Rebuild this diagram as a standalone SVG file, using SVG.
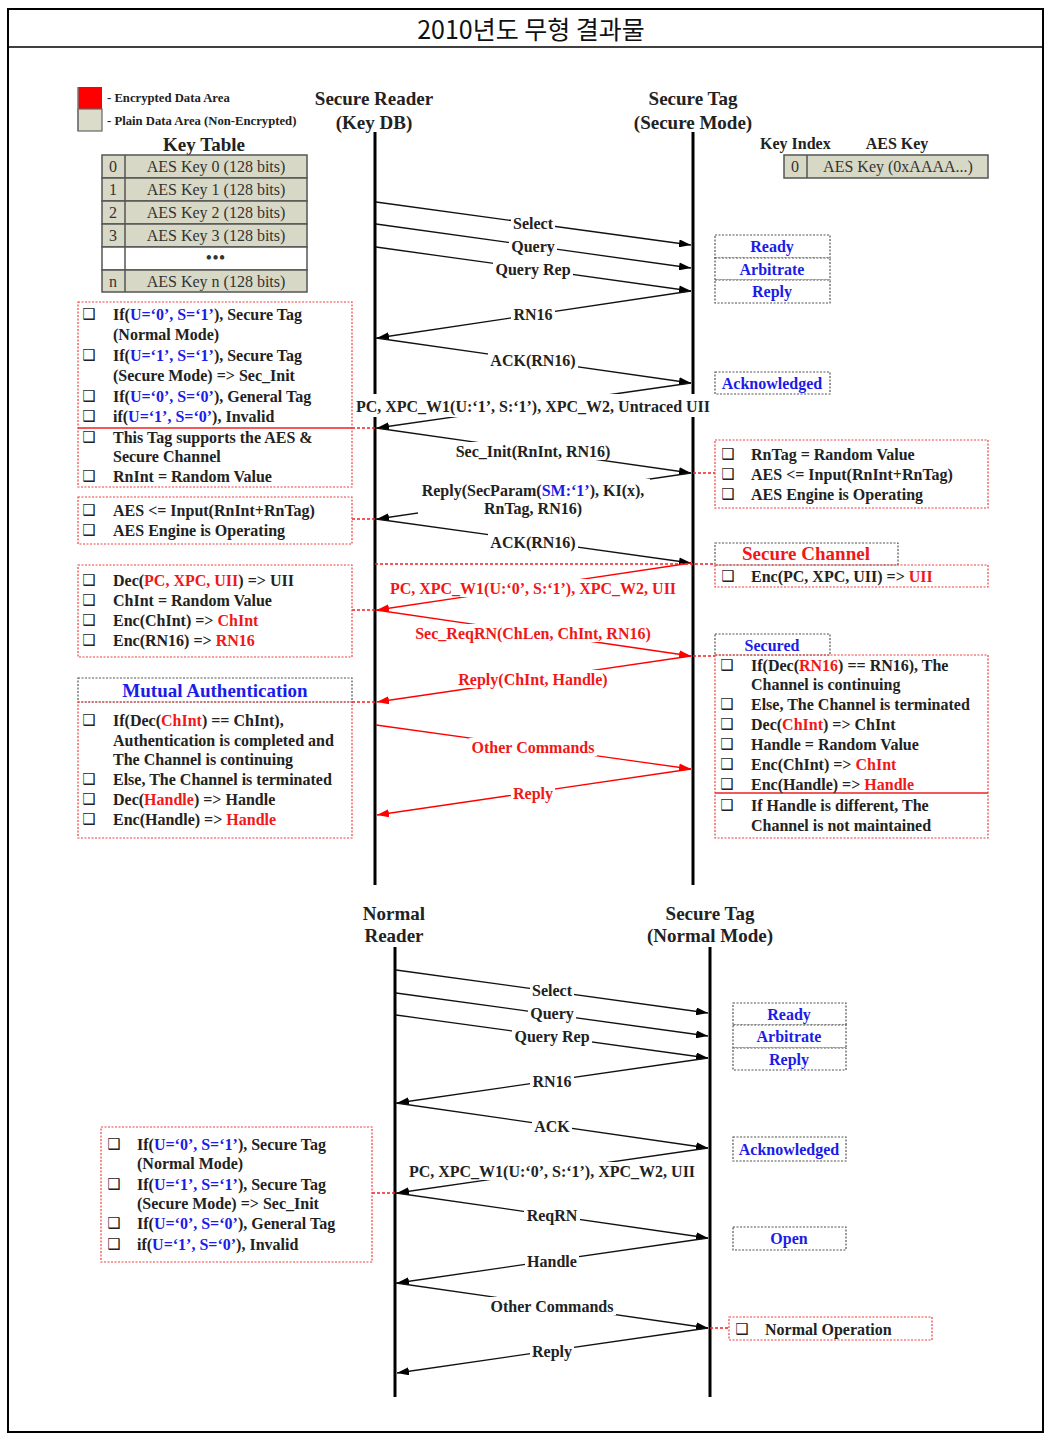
<svg xmlns="http://www.w3.org/2000/svg" width="1051" height="1439" viewBox="0 0 1051 1439">
<style>
.t{font-family:"Liberation Serif","Times New Roman",serif;font-weight:bold;font-size:16px;fill:#222;dominant-baseline:central}
.c{text-anchor:middle}
.lbl{text-anchor:middle}
.hd{font-size:19px;text-anchor:middle}
.lg{font-size:12.7px}
.red{fill:#f01818}
.blu{fill:#1c1ce8}
.cb{font-family:"DejaVu Sans",sans-serif;font-weight:bold;font-size:15px;fill:#222;text-anchor:middle;dominant-baseline:central}
.rbox{fill:none;stroke:#f04040;stroke-width:1.2;stroke-dasharray:2 1.5}
.gbox{fill:#fff;stroke:#555;stroke-width:1.2;stroke-dasharray:2 1.5}
.rcon{stroke:#f02020;stroke-width:1.5;stroke-dasharray:3 2;fill:none}
.msg{stroke:#111;stroke-width:1.3;fill:none;marker-end:url(#ab)}
.rmsg{stroke:#f00;stroke-width:1.3;fill:none;marker-end:url(#ar)}
.life{stroke:#000;stroke-width:3}
.kt{fill:#d8d8c6;stroke:#555;stroke-width:1.5}
.kx{font-family:"Liberation Serif","Times New Roman",serif;font-size:16px;fill:#333;text-anchor:middle;dominant-baseline:central}
.wb{fill:#fff}
</style>
<defs>
<marker id="ab" viewBox="0 0 12 8" refX="12" refY="4" markerWidth="12" markerHeight="8" orient="auto" markerUnits="userSpaceOnUse"><path d="M0,0 L12,4 L0,8 z" fill="#000"/></marker>
<marker id="ar" viewBox="0 0 12 8" refX="12" refY="4" markerWidth="12" markerHeight="8" orient="auto" markerUnits="userSpaceOnUse"><path d="M0,0 L12,4 L0,8 z" fill="#f00"/></marker>
</defs>
<rect width="1051" height="1439" fill="#fff"/>
<!-- frame -->
<rect x="8" y="9" width="1035" height="1423" fill="none" stroke="#000" stroke-width="2"/>
<line x1="8" y1="47" x2="1043" y2="47" stroke="#000" stroke-width="1.5"/>
<text x="531" y="28" font-family="'Noto Sans CJK KR',sans-serif" font-size="25" fill="#111" text-anchor="middle" dominant-baseline="central">2010년도 무형 결과물</text>

<!-- legend -->
<g id="legend">
<rect x="78" y="87" width="24" height="22" fill="#f00"/>
<rect x="78" y="109" width="24" height="22" fill="#dcdccb" stroke="#666" stroke-width="1.2"/>
<line x1="78" y1="87" x2="78" y2="131" stroke="#777" stroke-width="1.5"/>
<text class="t lg" x="107" y="98">- Encrypted Data Area</text>
<text class="t lg" x="107" y="121">- Plain Data Area (Non-Encrypted)</text>
</g>

<!-- key table -->
<g id="key-table">
<text class="t hd" x="204" y="144">Key Table</text>
<rect class="kt" x="102" y="155" width="205" height="23"/>
<rect class="kt" x="102" y="178" width="205" height="23"/>
<rect class="kt" x="102" y="201" width="205" height="23"/>
<rect class="kt" x="102" y="224" width="205" height="23"/>
<rect x="102" y="247" width="205" height="23" fill="#fff" stroke="#555" stroke-width="1.5"/>
<rect class="kt" x="102" y="270" width="205" height="22"/>
<line x1="125" y1="155" x2="125" y2="292" stroke="#555" stroke-width="1.5"/>
<text class="kx" x="113" y="166.5">0</text><text class="kx" x="216" y="166.5">AES Key 0 (128 bits)</text>
<text class="kx" x="113" y="189.5">1</text><text class="kx" x="216" y="189.5">AES Key 1 (128 bits)</text>
<text class="kx" x="113" y="212.5">2</text><text class="kx" x="216" y="212.5">AES Key 2 (128 bits)</text>
<text class="kx" x="113" y="235.5">3</text><text class="kx" x="216" y="235.5">AES Key 3 (128 bits)</text>
<text class="kx" x="216" y="257" font-weight="bold" letter-spacing="1">•••</text>
<text class="kx" x="113" y="281">n</text><text class="kx" x="216" y="281">AES Key n (128 bits)</text>
</g>

<!-- tag key -->
<g id="tag-key">
<text class="t" x="760" y="143">Key Index</text>
<text class="t c" x="897" y="143">AES Key</text>
<rect class="kt" x="784" y="155" width="204" height="23"/>
<line x1="807" y1="155" x2="807" y2="178" stroke="#555" stroke-width="1.5"/>
<text class="kx" x="795" y="166.5">0</text>
<text class="kx" x="898" y="166.5">AES Key (0xAAAA...)</text>
</g>

<!-- actors / lifelines -->
<g id="secure-reader">
<text class="t hd" x="374" y="98">Secure Reader</text>
<text class="t hd" x="374" y="122">(Key DB)</text>
<line class="life" x1="375" y1="132" x2="375" y2="885"/>
</g>
<g id="secure-tag-secure">
<text class="t hd" x="693" y="98">Secure Tag</text>
<text class="t hd" x="693" y="122">(Secure Mode)</text>
<line class="life" x1="693" y1="132" x2="693" y2="885"/>
</g>
<g id="normal-reader">
<text class="t hd" x="394" y="913">Normal</text>
<text class="t hd" x="394" y="935">Reader</text>
<line class="life" x1="395" y1="947" x2="395" y2="1397"/>
</g>
<g id="secure-tag-normal">
<text class="t hd" x="710" y="913">Secure Tag</text>
<text class="t hd" x="710" y="935">(Normal Mode)</text>
<line class="life" x1="710" y1="947" x2="710" y2="1397"/>
</g>

<!-- connectors -->
<g id="connectors">
<path class="msg" d="M376,202 L691,245"/>
<path class="msg" d="M376,224 L691,268"/>
<path class="msg" d="M376,247 L691,291"/>
<path class="msg" d="M691,291 L377,338"/>
<path class="msg" d="M376,338 L691,383"/>
<path class="msg" d="M691,383 L377,428"/>
<path class="msg" d="M376,428 L691,473"/>
<path class="msg" d="M691,473 L377,519"/>
<path class="msg" d="M376,519 L691,563"/>
<path class="rmsg" d="M691,563 L377,610"/>
<path class="rmsg" d="M376,610 L691,656"/>
<path class="rmsg" d="M691,656 L377,702"/>
<path class="rmsg" d="M376,725 L691,769"/>
<path class="rmsg" d="M691,769 L377,815"/>

<path class="msg" d="M396,970 L708,1013"/>
<path class="msg" d="M396,993 L708,1036"/>
<path class="msg" d="M396,1015 L708,1058"/>
<path class="msg" d="M708,1058 L397,1103"/>
<path class="msg" d="M396,1103 L708,1148"/>
<path class="msg" d="M708,1148 L397,1193"/>
<path class="msg" d="M396,1193 L708,1238"/>
<path class="msg" d="M708,1238 L397,1283"/>
<path class="msg" d="M396,1283 L708,1328"/>
<path class="msg" d="M708,1328 L397,1373"/>

<!-- note connectors -->
<line class="rcon" x1="352" y1="428" x2="375" y2="428"/>
<line class="rcon" x1="693" y1="473" x2="715" y2="473"/>
<line class="rcon" x1="352" y1="519" x2="375" y2="519"/>
<line class="rcon" x1="375" y1="564" x2="715" y2="564"/>
<line class="rcon" x1="352" y1="610" x2="375" y2="610"/>
<line class="rcon" x1="693" y1="656" x2="715" y2="656"/>
<line class="rcon" x1="352" y1="702" x2="375" y2="702"/>
<line class="rcon" x1="372" y1="1193" x2="395" y2="1193"/>
<line class="rcon" x1="710" y1="1328" x2="729" y2="1328"/>

<!-- label backgrounds -->
<rect class="wb" x="511" y="214" width="44" height="18"/>
<rect class="wb" x="509" y="237" width="48" height="18"/>
<rect class="wb" x="493" y="260" width="80" height="18"/>
<rect class="wb" x="511" y="305" width="44" height="18"/>
<rect class="wb" x="488" y="351" width="90" height="18"/>
<rect class="wb" x="354" y="394" width="358" height="23"/>
<rect class="wb" x="453" y="442" width="160" height="18"/>
<rect class="wb" x="418" y="479" width="232" height="38"/>
<rect class="wb" x="488" y="533" width="90" height="18"/>
<rect class="wb" x="388" y="579" width="290" height="18"/>
<rect class="wb" x="413" y="624" width="240" height="18"/>
<rect class="wb" x="456" y="670" width="154" height="18"/>
<rect class="wb" x="469" y="738" width="128" height="18"/>
<rect class="wb" x="511" y="784" width="44" height="18"/>

<rect class="wb" x="530" y="981" width="44" height="18"/>
<rect class="wb" x="528" y="1004" width="48" height="18"/>
<rect class="wb" x="512" y="1027" width="80" height="18"/>
<rect class="wb" x="530" y="1072" width="44" height="18"/>
<rect class="wb" x="532" y="1117" width="40" height="18"/>
<rect class="wb" x="407" y="1162" width="290" height="18"/>
<rect class="wb" x="524" y="1206" width="56" height="18"/>
<rect class="wb" x="525" y="1252" width="54" height="18"/>
<rect class="wb" x="488" y="1297" width="128" height="18"/>
<rect class="wb" x="530" y="1342" width="44" height="18"/>

<!-- labels -->
<text class="t lbl" x="533" y="223">Select</text>
<text class="t lbl" x="533" y="246">Query</text>
<text class="t lbl" x="533" y="269">Query Rep</text>
<text class="t lbl" x="533" y="314">RN16</text>
<text class="t lbl" x="533" y="360">ACK(RN16)</text>
<text class="t lbl" x="533" y="406">PC, XPC_W1(U:‘1’, S:‘1’), XPC_W2, Untraced UII</text>
<text class="t lbl" x="533" y="451">Sec_Init(RnInt, RN16)</text>
<text class="t lbl" x="533" y="490">Reply(SecParam(<tspan class="blu">SM:‘1’</tspan>), KI(x),</text>
<text class="t lbl" x="533" y="508">RnTag, RN16)</text>
<text class="t lbl" x="533" y="542">ACK(RN16)</text>
<text class="t lbl red" x="533" y="588">PC, XPC_W1(U:‘0’, S:‘1’), XPC_W2, UII</text>
<text class="t lbl red" x="533" y="633">Sec_ReqRN(ChLen, ChInt, RN16)</text>
<text class="t lbl red" x="533" y="679">Reply(ChInt, Handle)</text>
<text class="t lbl red" x="533" y="747">Other Commands</text>
<text class="t lbl red" x="533" y="793">Reply</text>

<text class="t lbl" x="552" y="990">Select</text>
<text class="t lbl" x="552" y="1013">Query</text>
<text class="t lbl" x="552" y="1036">Query Rep</text>
<text class="t lbl" x="552" y="1081">RN16</text>
<text class="t lbl" x="552" y="1126">ACK</text>
<text class="t lbl" x="552" y="1171">PC, XPC_W1(U:‘0’, S:‘1’), XPC_W2, UII</text>
<text class="t lbl" x="552" y="1215">ReqRN</text>
<text class="t lbl" x="552" y="1261">Handle</text>
<text class="t lbl" x="552" y="1306">Other Commands</text>
<text class="t lbl" x="552" y="1351">Reply</text>
</g>

<!-- state boxes top -->
<g id="state-ready">
<rect class="gbox" x="715" y="235" width="115" height="23"/>
<text class="t c blu" x="772" y="246">Ready</text>
</g>
<g id="state-arbitrate">
<rect class="gbox" x="715" y="258" width="115" height="22"/>
<text class="t c blu" x="772" y="269">Arbitrate</text>
</g>
<g id="state-reply">
<rect class="gbox" x="715" y="280" width="115" height="23"/>
<text class="t c blu" x="772" y="291">Reply</text>
</g>
<g id="state-acknowledged">
<rect class="gbox" x="715" y="372" width="115" height="22"/>
<text class="t c blu" x="772" y="383">Acknowledged</text>
</g>

<!-- left note 1 -->
<g id="note-reader-1">
<rect class="rbox" x="78" y="302" width="274" height="185"/>
<line x1="78" y1="428" x2="352" y2="428" stroke="#f02020" stroke-width="1.3"/>
<text class="cb" x="89" y="314">❑</text><text class="t" x="113" y="314">If(<tspan class="blu">U=‘0’, S=‘1’</tspan>), Secure Tag</text>
<text class="t" x="113" y="334">(Normal Mode)</text>
<text class="cb" x="89" y="355">❑</text><text class="t" x="113" y="355">If(<tspan class="blu">U=‘1’, S=‘1’</tspan>), Secure Tag</text>
<text class="t" x="113" y="375">(Secure Mode) =&gt; Sec_Init</text>
<text class="cb" x="89" y="396">❑</text><text class="t" x="113" y="396">If(<tspan class="blu">U=‘0’, S=‘0’</tspan>), General Tag</text>
<text class="cb" x="89" y="416">❑</text><text class="t" x="113" y="416">if(<tspan class="blu">U=‘1’, S=‘0’</tspan>), Invalid</text>
<text class="cb" x="89" y="437">❑</text><text class="t" x="113" y="437">This Tag supports the AES &amp;</text>
<text class="t" x="113" y="456">Secure Channel</text>
<text class="cb" x="89" y="476">❑</text><text class="t" x="113" y="476">RnInt = Random Value</text>
</g>

<g id="note-reader-2">
<rect class="rbox" x="78" y="497" width="274" height="47"/>
<text class="cb" x="89" y="510">❑</text><text class="t" x="113" y="510">AES &lt;= Input(RnInt+RnTag)</text>
<text class="cb" x="89" y="530">❑</text><text class="t" x="113" y="530">AES Engine is Operating</text>
</g>

<g id="note-reader-3">
<rect class="rbox" x="78" y="565" width="274" height="92"/>
<text class="cb" x="89" y="580">❑</text><text class="t" x="113" y="580">Dec(<tspan class="red">PC, XPC, UII</tspan>) =&gt; UII</text>
<text class="cb" x="89" y="600">❑</text><text class="t" x="113" y="600">ChInt = Random Value</text>
<text class="cb" x="89" y="620">❑</text><text class="t" x="113" y="620">Enc(ChInt) =&gt; <tspan class="red">ChInt</tspan></text>
<text class="cb" x="89" y="640">❑</text><text class="t" x="113" y="640">Enc(RN16) =&gt; <tspan class="red">RN16</tspan></text>
</g>

<g id="note-mutual-auth">
<rect class="gbox" x="78" y="678" width="274" height="24"/>
<text class="t hd blu" x="215" y="690">Mutual Authentication</text>
<rect class="rbox" x="78" y="702" width="274" height="136"/>
<text class="cb" x="89" y="720">❑</text><text class="t" x="113" y="720">If(Dec(<tspan class="red">ChInt</tspan>) == ChInt),</text>
<text class="t" x="113" y="740">Authentication is completed and</text>
<text class="t" x="113" y="759">The Channel is continuing</text>
<text class="cb" x="89" y="779">❑</text><text class="t" x="113" y="779">Else, The Channel is terminated</text>
<text class="cb" x="89" y="799">❑</text><text class="t" x="113" y="799">Dec(<tspan class="red">Handle</tspan>) =&gt; Handle</text>
<text class="cb" x="89" y="819">❑</text><text class="t" x="113" y="819">Enc(Handle) =&gt; <tspan class="red">Handle</tspan></text>
</g>

<!-- right notes -->
<g id="note-tag-1">
<rect class="rbox" x="715" y="440" width="273" height="68"/>
<text class="cb" x="728" y="454">❑</text><text class="t" x="751" y="454">RnTag = Random Value</text>
<text class="cb" x="728" y="474">❑</text><text class="t" x="751" y="474">AES &lt;= Input(RnInt+RnTag)</text>
<text class="cb" x="728" y="494">❑</text><text class="t" x="751" y="494">AES Engine is Operating</text>
</g>

<g id="note-secure-channel">
<rect class="gbox" x="715" y="543" width="183" height="22"/>
<text class="t hd red" x="806" y="553">Secure Channel</text>
<rect class="rbox" x="715" y="565" width="273" height="22"/>
<text class="cb" x="728" y="576">❑</text><text class="t" x="751" y="576">Enc(PC, XPC, UII) =&gt; <tspan class="red">UII</tspan></text>
</g>

<g id="note-secured">
<rect class="gbox" x="715" y="634" width="115" height="21"/>
<text class="t c blu" x="772" y="645">Secured</text>
<rect class="rbox" x="715" y="655" width="273" height="183"/>
<line x1="715" y1="793" x2="988" y2="793" stroke="#f02020" stroke-width="1.3"/>
<text class="cb" x="727" y="665">❑</text><text class="t" x="751" y="665">If(Dec(<tspan class="red">RN16</tspan>) == RN16), The</text>
<text class="t" x="751" y="684">Channel is continuing</text>
<text class="cb" x="727" y="704">❑</text><text class="t" x="751" y="704">Else, The Channel is terminated</text>
<text class="cb" x="727" y="724">❑</text><text class="t" x="751" y="724">Dec(<tspan class="red">ChInt</tspan>) =&gt; ChInt</text>
<text class="cb" x="727" y="744">❑</text><text class="t" x="751" y="744">Handle = Random Value</text>
<text class="cb" x="727" y="764">❑</text><text class="t" x="751" y="764">Enc(ChInt) =&gt; <tspan class="red">ChInt</tspan></text>
<text class="cb" x="727" y="784">❑</text><text class="t" x="751" y="784">Enc(Handle) =&gt; <tspan class="red">Handle</tspan></text>
<text class="cb" x="727" y="805">❑</text><text class="t" x="751" y="805">If Handle is different, The</text>
<text class="t" x="751" y="825">Channel is not maintained</text>
</g>

<!-- bottom states -->
<g id="b-state-ready">
<rect class="gbox" x="733" y="1003" width="113" height="22"/>
<text class="t c blu" x="789" y="1014">Ready</text>
</g>
<g id="b-state-arbitrate">
<rect class="gbox" x="733" y="1025" width="113" height="23"/>
<text class="t c blu" x="789" y="1036">Arbitrate</text>
</g>
<g id="b-state-reply">
<rect class="gbox" x="733" y="1048" width="113" height="22"/>
<text class="t c blu" x="789" y="1059">Reply</text>
</g>
<g id="b-state-acknowledged">
<rect class="gbox" x="733" y="1137" width="113" height="24"/>
<text class="t c blu" x="789" y="1149">Acknowledged</text>
</g>
<g id="b-state-open">
<rect class="gbox" x="733" y="1227" width="113" height="23"/>
<text class="t c blu" x="789" y="1238">Open</text>
</g>

<g id="b-note-reader">
<rect class="rbox" x="101" y="1127" width="271" height="135"/>
<text class="cb" x="114" y="1144">❑</text><text class="t" x="137" y="1144">If(<tspan class="blu">U=‘0’, S=‘1’</tspan>), Secure Tag</text>
<text class="t" x="137" y="1163">(Normal Mode)</text>
<text class="cb" x="114" y="1184">❑</text><text class="t" x="137" y="1184">If(<tspan class="blu">U=‘1’, S=‘1’</tspan>), Secure Tag</text>
<text class="t" x="137" y="1203">(Secure Mode) =&gt; Sec_Init</text>
<text class="cb" x="114" y="1223">❑</text><text class="t" x="137" y="1223">If(<tspan class="blu">U=‘0’, S=‘0’</tspan>), General Tag</text>
<text class="cb" x="114" y="1244">❑</text><text class="t" x="137" y="1244">if(<tspan class="blu">U=‘1’, S=‘0’</tspan>), Invalid</text>
</g>

<g id="b-note-normal-op">
<rect class="rbox" x="729" y="1317" width="203" height="23"/>
<text class="cb" x="742" y="1329">❑</text><text class="t" x="765" y="1329">Normal Operation</text>
</g>
</svg>
